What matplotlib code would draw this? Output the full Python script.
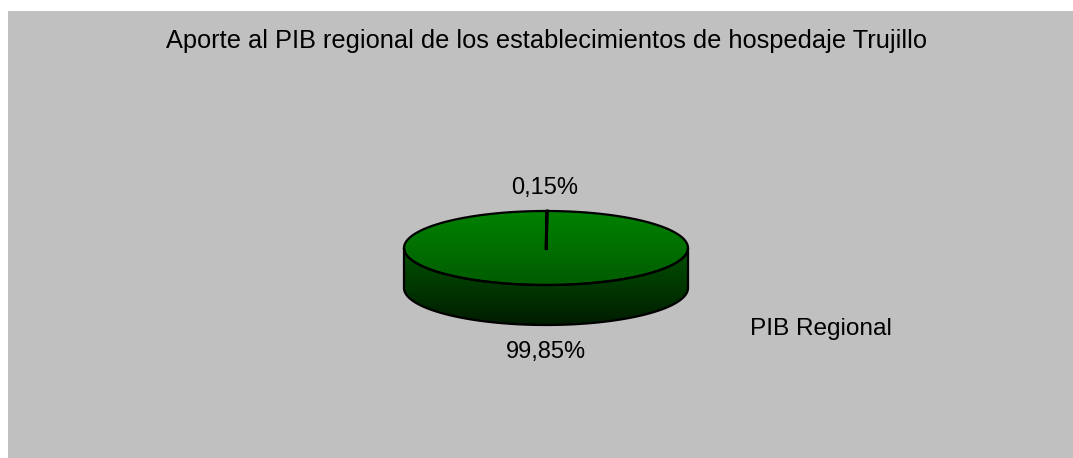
import numpy as np
import matplotlib.pyplot as plt
from matplotlib.path import Path
from matplotlib.patches import PathPatch, Rectangle
from matplotlib.colors import LinearSegmentedColormap

TITLE = "Aporte al PIB regional de los establecimientos de hospedaje Trujillo"
CATEGORIES = ["Hospedaje Trujillo", "PIB Regional"]
VALUES = [0.15, 99.85]
LABELS = ["0,15%", "99,85%"]

W, H = 1073, 458
BG = "#c0c0c0"

plt.rcParams["font.family"] = ["Liberation Sans", "DejaVu Sans"]

fig = plt.figure(figsize=(W / 100, H / 100), dpi=100)
ax = fig.add_axes([0, 0, 1, 1])
ax.set_xlim(0, W)
ax.set_ylim(H, 0)
ax.axis("off")

# gray chart area
ax.add_patch(Rectangle((8, 11), W - 8, H - 11, facecolor=BG, edgecolor="none", zorder=0))

# pie geometry in pixels
cx, cy = 546, 248
a, b = 142, 37
depth = 40


def ell(t, dy=0.0):
    return cx + a * np.cos(t), cy - b * np.sin(t) + dy


def gradient_fill(path, y0, y1, c_top, c_bot, z):
    patch = PathPatch(path, facecolor="none", edgecolor="none")
    ax.add_patch(patch)
    cmap = LinearSegmentedColormap.from_list("g", [c_top, c_bot])
    grad = np.linspace(0, 1, 256).reshape(-1, 1)
    im = ax.imshow(grad, cmap=cmap, extent=(cx - a - 2, cx + a + 2, y1, y0),
                   aspect="auto", zorder=z, interpolation="bilinear")
    im.set_clip_path(patch)


# side wall (lower half of ellipse extruded downwards)
t = np.linspace(np.pi, 2 * np.pi, 200)
xs, ys = ell(t)
xb, yb = ell(t[::-1], depth)
side = np.vstack([np.column_stack([xs, ys]), np.column_stack([xb, yb]), [[xs[0], ys[0]]]])
side_path = Path(side, closed=True)
gradient_fill(side_path, cy, cy + b + depth, "#005200", "#001c00", 1)
ax.add_patch(PathPatch(side_path, facecolor="none", edgecolor="black", lw=1.6, zorder=3))

# top face
t = np.linspace(0, 2 * np.pi, 400)
xt, yt = ell(t)
top_path = Path(np.column_stack([xt, yt]), closed=True)
gradient_fill(top_path, cy - b, cy + b, "#008200", "#005c00", 2)
ax.add_patch(PathPatch(top_path, facecolor="none", edgecolor="black", lw=1.6, zorder=4))

# slice boundaries, starting at the top, going clockwise
total = sum(VALUES)
ang = np.pi / 2
bounds = [ang]
for v in VALUES[:-1]:
    ang -= 2 * np.pi * v / total
    bounds.append(ang)
for t0 in bounds:
    x1, y1 = ell(t0)
    ax.plot([cx, x1], [cy, y1], color="black", lw=2.2, zorder=5)

# data labels
ax.text(cx - 1, 188, LABELS[0], ha="center", va="center", fontsize=17, zorder=6)
ax.text(cx, 352, LABELS[1], ha="center", va="center", fontsize=17, zorder=6)

# legend-like label
ax.text(750, 329, CATEGORIES[1], ha="left", va="center", fontsize=17.6)

ax.text(546, 41, TITLE, ha="center", va="center", fontsize=18.3)

fig.savefig("out.png", dpi=100, facecolor="white")
